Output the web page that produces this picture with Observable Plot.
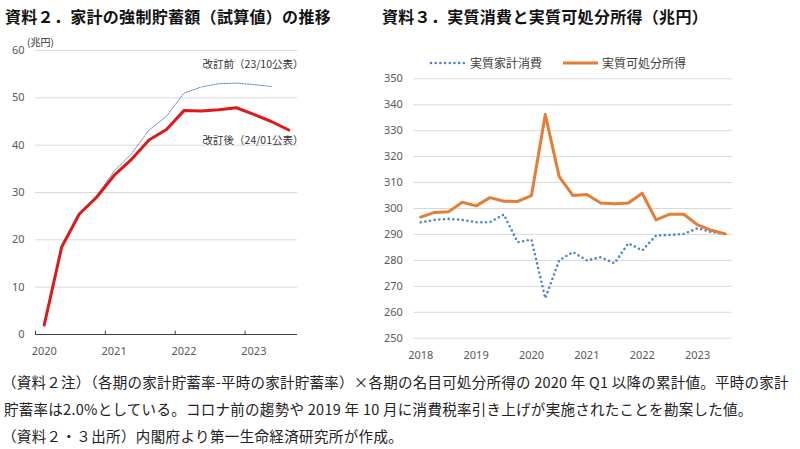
<!DOCTYPE html>
<html><head><meta charset="utf-8">
<script src="https://cdn.jsdelivr.net/npm/d3@7"></script>
<script src="https://cdn.jsdelivr.net/npm/@observablehq/plot@0.6"></script>
<style>
html,body{margin:0;padding:0;background:#fff;}
#page{position:relative;width:800px;height:449px;overflow:hidden;font-family:"Noto Sans CJK JP","Noto Sans",sans-serif;}
.abs{position:absolute;white-space:nowrap;}
.title{font-size:16px;font-weight:700;line-height:16px;color:#111;letter-spacing:0.3px;}
.note{font-size:14.5px;line-height:15px;color:#222;}
.leg{font-size:12px;line-height:12px;color:#404040;}
</style></head>
<body><div id="page"></div>
<script>
// ---- data: 資料２ 家計の強制貯蓄額（兆円）
const savingsQuarters = ["2020Q1","2020Q2","2020Q3","2020Q4","2021Q1","2021Q2","2021Q3","2021Q4","2022Q1","2022Q2","2022Q3","2022Q4","2023Q1","2023Q2","2023Q3"];
const savingsAfter  = [2.0,18.5,25.4,29.0,33.6,37.0,41.1,43.3,47.3,47.2,47.5,47.9,46.5,45.0,43.2]; // 改訂後（24/01公表）
const savingsBefore = [2.0,18.6,25.7,29.3,34.5,38.2,43.2,46.1,51.0,52.3,53.0,53.1,52.8,52.4];      // 改訂前（23/10公表）
const savingsYears = [2020,2021,2022,2023];
const savingsTicksY = [0,10,20,30,40,50,60];
const savingsLabels = ["改訂前（23/10公表）","改訂後（24/01公表）"];
const savingsLabelY = [57.0,41.0];

// ---- data: 資料３ 実質消費と実質可処分所得（兆円）
const realQuarters = ["2018Q1","2018Q2","2018Q3","2018Q4","2019Q1","2019Q2","2019Q3","2019Q4","2020Q1","2020Q2","2020Q3","2020Q4","2021Q1","2021Q2","2021Q3","2021Q4","2022Q1","2022Q2","2022Q3","2022Q4","2023Q1","2023Q2","2023Q3"];
const realConsumption = [294.7,295.6,296.0,295.6,294.7,294.7,297.7,287.0,288.0,265.4,280.0,283.2,280.0,281.2,278.9,286.6,283.8,289.6,289.8,290.2,292.4,290.9,290.2];
const realIncome      = [296.7,298.5,298.7,302.4,301.0,304.2,302.8,302.7,305.0,336.2,312.3,305.0,305.4,302.1,301.8,302.1,305.9,295.6,297.8,297.8,293.7,291.6,290.2];
const realYears = [2018,2019,2020,2021,2022,2023];
const realTicksY = [250,260,270,280,290,300,310,320,330,340,350];
const seriesNames = ["実質家計消費","実質可処分所得"];

const titles = ["資料２．家計の強制貯蓄額（試算値）の推移","資料３．実質消費と実質可処分所得（兆円）"];
const notes = [
  "（資料２注）（各期の家計貯蓄率-平時の家計貯蓄率）×各期の名目可処分所得の 2020 年 Q1 以降の累計値。平時の家計",
  "貯蓄率は2.0%としている。コロナ前の趨勢や 2019 年 10 月に消費税率引き上げが実施されたことを勘案した値。",
  "（資料２・３出所）内閣府より第一生命経済研究所が作成。"
];

const qpos = (s, off) => +s.slice(0,4) + (+s.slice(5) - 1) / 4 + off;
const page = document.getElementById("page");
function place(el, left, top){ el.style.position="absolute"; el.style.left=left+"px"; el.style.top=top+"px"; page.appendChild(el); return el; }
function div(cls, text, left, top){ const d=document.createElement("div"); d.className="abs "+cls; d.textContent=text; return place(d,left,top); }

const RED="#dc1a1a", BLUE_THIN="#5b82c4", BLUE="#4a86c6", ORANGE="#e47d35", GRID="#d9d9d9", TXT="#595959";

// ---- left chart
const leftA = savingsQuarters.map((q,i)=>({x:qpos(q,0.125), y:savingsAfter[i]}));
const leftB = savingsBefore.map((v,i)=>({x:qpos(savingsQuarters[i],0.125), y:v}));
const left = Plot.plot({
  width:330, height:365, marginLeft:35, marginRight:33, marginTop:50, marginBottom:31,
  style:{fontFamily:"'Noto Sans','Noto Sans CJK JP',sans-serif", background:"transparent"},
  x:{domain:[2020,2023.75]},
  y:{domain:[0,60]},
  marks:[
    Plot.gridY(savingsTicksY.filter(d=>d>0), {stroke:GRID, strokeOpacity:1}),
    Plot.axisY(savingsTicksY, {tickSize:0, tickPadding:11, fontSize:11, color:TXT, label:null}),
    Plot.ruleY([0], {stroke:"#404040"}),
    Plot.axisX(savingsYears.map(d=>d+0.125), {tickSize:0, tickPadding:13, fontSize:11, color:TXT, tickFormat:d=>String(Math.floor(d)), label:null}),
    Plot.ruleX(savingsYears, {y1:0, y2:0.7, stroke:"#404040"}),
    Plot.line(leftB, {x:"x", y:"y", stroke:BLUE_THIN, strokeWidth:1, strokeDasharray:"1.3 1.3"}),
    Plot.line(leftA, {x:"x", y:"y", stroke:RED, strokeWidth:3}),
    Plot.text(savingsLabels, {text:d=>d, y:(d,i)=>savingsLabelY[i], frameAnchor:"right", textAnchor:"end", dx:6, fontSize:10.5, fill:"#333", fontFamily:"'Noto Sans CJK JP',sans-serif"})
  ]
});
place(left, 0, 0);
const unit = div("", "(兆円)", 27, 37); unit.style.fontSize="10px"; unit.style.color="#333"; unit.style.lineHeight="10px";

// ---- right chart
const rightC = realQuarters.map((q,i)=>({x:qpos(q,0), y:realConsumption[i]}));
const rightI = realQuarters.map((q,i)=>({x:qpos(q,0), y:realIncome[i]}));
const right = Plot.plot({
  width:420, height:370, marginLeft:33.3, marginRight:68.3, marginTop:78.3, marginBottom:32.3,
  style:{fontFamily:"'Noto Sans','Noto Sans CJK JP',sans-serif", background:"transparent"},
  x:{domain:[2017.875,2023.625]},
  y:{domain:[250,350]},
  marks:[
    Plot.gridY(realTicksY, {stroke:GRID, strokeOpacity:1}),
    Plot.axisY(realTicksY, {tickSize:0, tickPadding:11, fontSize:11, color:TXT, label:null}),
    Plot.axisX(realYears, {tickSize:0, tickPadding:13, fontSize:11, color:TXT, tickFormat:d=>String(d), label:null}),
    Plot.line(rightC, {x:"x", y:"y", stroke:BLUE, strokeWidth:2.6, strokeDasharray:"0 4.7", strokeLinecap:"round"}),
    Plot.line(rightI, {x:"x", y:"y", stroke:ORANGE, strokeWidth:3})
  ]
});
place(right, 380, 0);

// legend
function legendLine(left, top, color, dash){
  const ns="http://www.w3.org/2000/svg";
  const s=document.createElementNS(ns,"svg"); s.setAttribute("width",38); s.setAttribute("height",6);
  const l=document.createElementNS(ns,"line"); l.setAttribute("x1",dash?2:0); l.setAttribute("x2",35); l.setAttribute("y1",3); l.setAttribute("y2",3);
  l.setAttribute("stroke",color); l.setAttribute("stroke-width",dash?2.6:3);
  if(dash){ l.setAttribute("stroke-dasharray","0 4.7"); l.setAttribute("stroke-linecap","round"); }
  s.appendChild(l); place(s,left,top);
}
legendLine(429, 60, BLUE, true);
div("leg", seriesNames[0], 470, 57);
legendLine(563, 60, ORANGE, false);
div("leg", seriesNames[1], 602, 57);

// titles
div("title", titles[0], 5, 8);
div("title", titles[1], 382, 8);

// notes
const n1 = div("note", notes[0], 2, 374); n1.style.letterSpacing="0.24px";
const n2 = div("note", notes[1], 4, 401); n2.style.letterSpacing="0.28px";
const n3 = div("note", notes[2], 2, 428); n3.style.letterSpacing="0.37px";
</script>
</body></html>
